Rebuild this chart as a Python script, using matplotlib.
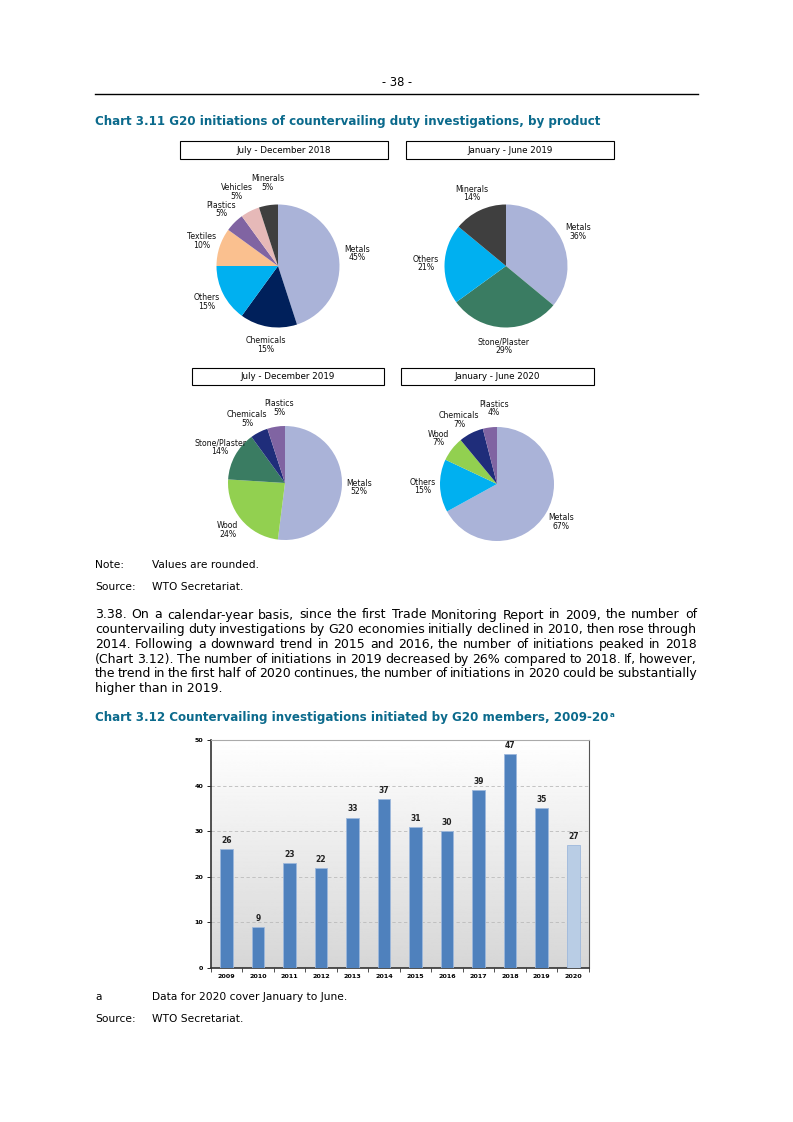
import matplotlib
matplotlib.use("Agg")
import matplotlib.pyplot as plt
import numpy as np
from matplotlib.patches import Rectangle

W, H = 793, 1122
TEAL = '#0b6a8c'

# pie data (clockwise from 12 o'clock)
pie1_labels = ['Metals', 'Chemicals', 'Others', 'Textiles', 'Plastics', 'Vehicles', 'Minerals']
pie1_values = [45, 15, 15, 10, 5, 5, 5]
pie2_labels = ['Metals', 'Stone/Plaster', 'Others', 'Minerals']
pie2_values = [36, 29, 21, 14]
pie3_labels = ['Metals', 'Wood', 'Stone/Plaster', 'Chemicals', 'Plastics']
pie3_values = [52, 24, 14, 5, 5]
pie4_labels = ['Metals', 'Others', 'Wood', 'Chemicals', 'Plastics']
pie4_values = [67, 15, 7, 7, 4]
pie_titles = ['July - December 2018', 'January - June 2019',
              'July - December 2019', 'January - June 2020']

# bar data
years = ['2009', '2010', '2011', '2012', '2013', '2014', '2015', '2016',
         '2017', '2018', '2019', '2020']
initiations = [26, 9, 23, 22, 33, 37, 31, 30, 39, 47, 35, 27]

colors = {
    'Metals': '#aab3d8', 'Chemicals': '#00205b', 'Others': '#00b0f0',
    'Textiles': '#fac08f', 'Plastics': '#8064a2', 'Vehicles': '#e6b9b8',
    'Minerals': '#3f3f3f', 'Stone/Plaster': '#3a7c62', 'Wood': '#92d050',
}
chem_dark = '#1f2d7a'

fig = plt.figure(figsize=(W / 100, H / 100), dpi=100)
fig.patch.set_facecolor('white')


def fx(x):
    return x / W


def fy(y):
    return 1 - y / H


def page_text(x, y, s, **kw):
    kw.setdefault('fontsize', 7.7)
    kw.setdefault('va', 'center')
    return fig.text(fx(x), fy(y), s, **kw)


# header
page_text(397, 83, '- 38 -', ha='center', fontsize=8.3)
fig.add_artist(plt.Line2D([fx(95), fx(698)], [fy(94), fy(94)], color='black', lw=1))

page_text(95, 121, 'Chart 3.11 G20 initiations of countervailing duty investigations, by product',
          color=TEAL, fontweight='bold', fontsize=8.6)


def draw_pie(labels, values, cx, cy, r, title, box, chem_color=None, nudge=None):
    k = 1.75
    side = 2 * r * k
    ax = fig.add_axes([fx(cx - side / 2), fy(cy + side / 2), side / W, side / H])
    cols = [colors[l] for l in labels]
    if chem_color:
        cols = [chem_color if l == 'Chemicals' else c for l, c in zip(labels, cols)]
    lab = [f'{l}\n{v}%' for l, v in zip(labels, values)]
    _, texts = ax.pie(values, labels=lab, colors=cols, startangle=90, counterclock=False,
                      labeldistance=1.3, wedgeprops=dict(linewidth=0),
                      textprops=dict(fontsize=5.6, ha='center', va='center',
                                     linespacing=0.95, color='#111111'))
    # small label shifts (pixels, y up) where neighbouring labels collide
    if nudge:
        for t, l in zip(texts, labels):
            if l in nudge:
                dx, dy = nudge[l]
                px, py = t.get_position()
                t.set_position((px + dx / r, py + dy / r))
    ax.set_xlim(-k, k)
    ax.set_ylim(-k, k)
    ax.set_aspect('equal')
    ax.axis('off')
    x0, y0, x1, y1 = box
    fig.add_artist(Rectangle((fx(x0), fy(y1)), (x1 - x0) / W, (y1 - y0) / H,
                             transform=fig.transFigure, fill=False, ec='black', lw=0.8))
    page_text((x0 + x1) / 2, (y0 + y1) / 2 + 0.5, title, ha='center', fontsize=6.3)


small_nudge = {'Plastics': (6, 2), 'Chemicals': (-4, -2)}
draw_pie(pie1_labels, pie1_values, 278, 266, 61.5, pie_titles[0], (180, 141, 388, 159),
         nudge={'Vehicles': (-5, 3), 'Minerals': (2, 4)})
draw_pie(pie2_labels, pie2_values, 506, 266, 61.5, pie_titles[1], (406, 141, 614, 159))
draw_pie(pie3_labels, pie3_values, 285, 483, 57, pie_titles[2], (192, 368, 384, 385),
         chem_dark, small_nudge)
draw_pie(pie4_labels, pie4_values, 497, 484, 57, pie_titles[3], (401, 368, 594, 385),
         chem_dark, small_nudge)

# notes
page_text(95, 565, 'Note:')
page_text(152, 565, 'Values are rounded.')
page_text(95, 587, 'Source:')
page_text(152, 587, 'WTO Secretariat.')

# justified paragraph
para = [
    "3.38. On a calendar-year basis, since the first Trade Monitoring Report in 2009, the number of",
    "countervailing duty investigations by G20 economies initially declined in 2010, then rose through",
    "2014. Following a downward trend in 2015 and 2016, the number of initiations peaked in 2018",
    "(Chart 3.12). The number of initiations in 2019 decreased by 26% compared to 2018. If, however,",
    "the trend in the first half of 2020 continues, the number of initiations in 2020 could be substantially",
    "higher than in 2019.",
]
PFS = 9.0
renderer = fig.canvas.get_renderer()
left, right = 95, 697
for i, line in enumerate(para):
    y = 615 + i * 14.7
    words = line.split(' ')
    if i == len(para) - 1:
        page_text(left, y, line, fontsize=PFS)
        continue
    arts = [page_text(0, y, w, fontsize=PFS) for w in words]
    widths = [a.get_window_extent(renderer).width for a in arts]
    gap = (right - left - sum(widths)) / (len(words) - 1)
    x = left
    for a, w in zip(arts, widths):
        a.set_x(fx(x))
        x += w + gap

t = page_text(95, 718, 'Chart 3.12 Countervailing investigations initiated by G20 members, 2009-20',
              color=TEAL, fontweight='bold', fontsize=8.6)
bb = t.get_window_extent(renderer)
page_text(bb.x1 + 1, 715, 'a', color=TEAL, fontweight='bold', fontsize=5.2)

# bar chart
ax = fig.add_axes([fx(210.5), fy(968), (589 - 210.5) / W, (968 - 740) / H])
x = np.arange(len(years))
bar_cols = ['#4f81bd'] * (len(years) - 1) + ['#b9cde5']
ax.bar(x, initiations, width=0.4, color=bar_cols, edgecolor='#9db8dc',
       linewidth=0.6, zorder=3)
for xi, v in zip(x, initiations):
    ax.text(xi, v + 0.9, str(v), ha='center', va='bottom', fontsize=5.5,
            fontweight='bold', color='#222222')
ax.set_xlim(-0.5, len(years) - 0.5)
ax.set_ylim(0, 50)
grad = np.linspace(0.84, 1.0, 256).reshape(-1, 1)
ax.imshow(grad, extent=(-0.5, len(years) - 0.5, 0, 50), aspect='auto',
          cmap='gray', vmin=0, vmax=1, origin='lower', zorder=0)
ax.set_yticks([0, 10, 20, 30, 40, 50])
ax.yaxis.grid(True, linestyle=(0, (4, 3)), color='#bbbbbb', lw=0.6, zorder=1)
ax.set_xticks(x)
ax.set_xticklabels(years)
ax.set_xticks(np.arange(len(years) + 1) - 0.5, minor=True)
ax.tick_params(axis='x', which='major', length=0, labelsize=4.6, pad=4)
ax.tick_params(axis='x', which='minor', length=3, width=0.6, color='#333333')
ax.tick_params(axis='y', length=3, width=0.6, labelsize=4.6, pad=2)
for lab in ax.get_xticklabels() + ax.get_yticklabels():
    lab.set_fontweight('bold')
for s in ['left', 'bottom']:
    ax.spines[s].set_color('#333333')
    ax.spines[s].set_linewidth(1.2)
ax.spines['top'].set_color('#aaaaaa')
ax.spines['right'].set_color('#555555')
ax.spines['right'].set_linewidth(0.8)

# footnotes
page_text(95, 997, 'a')
page_text(152, 997, 'Data for 2020 cover January to June.')
page_text(95, 1019, 'Source:')
page_text(152, 1019, 'WTO Secretariat.')

fig.savefig('out.png', dpi=100)
